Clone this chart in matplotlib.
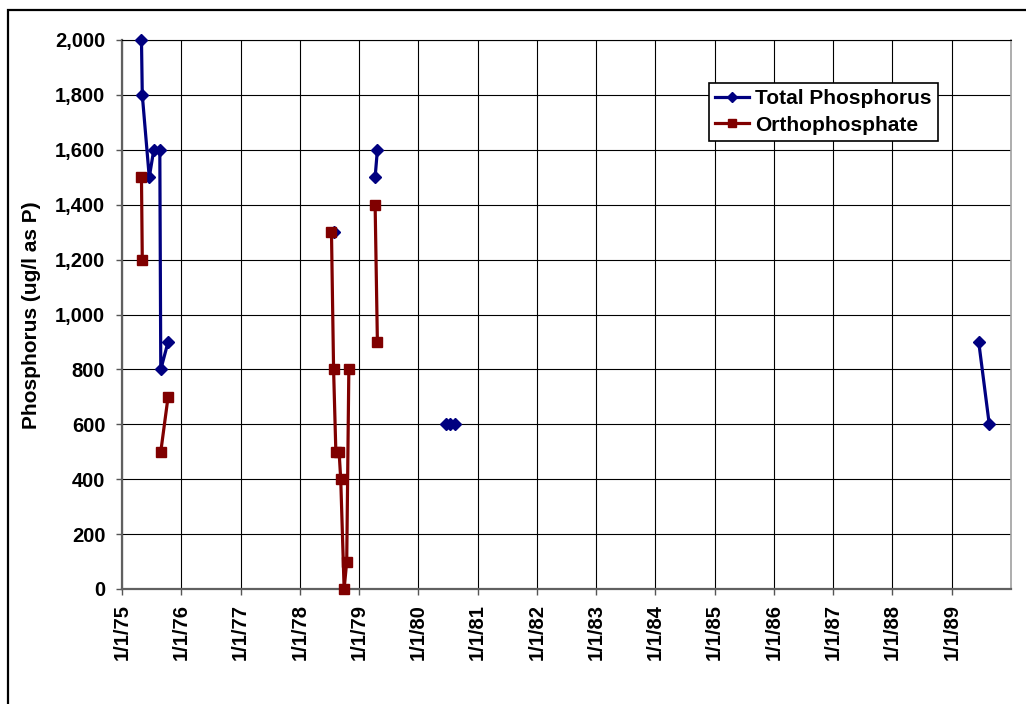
import numpy as np
import pandas as pd
import matplotlib
matplotlib.use("Agg")
import matplotlib.pyplot as plt
import matplotlib.dates as mdates
from matplotlib.patches import Rectangle
from matplotlib.ticker import FuncFormatter, MultipleLocator

plt.rcParams['font.family'] = ['Liberation Sans', 'DejaVu Sans']
plt.rcParams['font.weight'] = 'bold'

nan = np.nan

# sample dates, blank rows break the lines
sample_dates = [
    "1975-05-01", "1975-05-06", "1975-06-18", "1975-07-16", "1975-08-22",
    "1975-08-28", "1975-10-12",
    "1977-01-01",
    "1978-07-15", "1978-07-28", "1978-08-11", "1978-08-31", "1978-09-10",
    "1978-10-01", "1978-10-17", "1978-10-30",
    "1979-01-01",
    "1979-04-10", "1979-04-24",
    "1979-10-01",
    "1980-06-18", "1980-07-17", "1980-08-12",
    "1985-01-01",
    "1989-06-16", "1989-08-20",
]
total_p = [
    2000, 1800, 1500, 1600, 1600,
    800, 900,
    nan,
    nan, 1300, nan, nan, nan,
    nan, nan, nan,
    nan,
    1500, 1600,
    nan,
    600, 600, 600,
    nan,
    900, 600,
]
ortho_p = [
    1500, 1200, nan, nan, nan,
    500, 700,
    nan,
    1300, 800, 500, 500, 400,
    0, 100, 800,
    nan,
    1400, 900,
    nan,
    nan, nan, nan,
    nan,
    nan, nan,
]

dates = pd.to_datetime(sample_dates)
year_ticks = pd.date_range("1975-01-01", "1989-01-01", freq="YS")

fig = plt.figure(figsize=(10.26, 7.04), dpi=100)
ax = fig.add_axes([122 / 1026, 1 - 589 / 704, (1011 - 122) / 1026, (589 - 40) / 704])

ax.plot(dates, total_p, color="#000080", lw=2.3, marker="D", ms=6,
        label="Total Phosphorus", zorder=3, clip_on=False)
ax.plot(dates, ortho_p, color="#800000", lw=2.3, marker="s", ms=6.5,
        label="Orthophosphate", zorder=4, clip_on=False)

ax.set_xlim(pd.Timestamp("1975-01-01"), pd.Timestamp("1990-01-01"))
ax.set_ylim(0, 2000)
ax.yaxis.set_major_locator(MultipleLocator(200))
ax.yaxis.set_major_formatter(FuncFormatter(lambda v, p: f"{int(v):,}"))
ax.set_xticks(year_ticks)
ax.xaxis.set_major_formatter(FuncFormatter(
    lambda v, p: "1/1/" + mdates.num2date(v).strftime("%y")))

ax.grid(True, color="black", lw=0.8)
ax.set_axisbelow(True)
for lbl in ax.get_xticklabels():
    lbl.set_rotation(90)
ax.tick_params(axis="both", labelsize=14.5, length=4, width=1, color="#555555",
               direction="out")
ax.tick_params(axis="y", pad=8)
ax.tick_params(axis="x", pad=7)

for side in ["left", "bottom"]:
    ax.spines[side].set_color("#606060")
    ax.spines[side].set_linewidth(1.6)
ax.spines["top"].set_color("black")
ax.spines["top"].set_linewidth(0.8)
ax.spines["right"].set_color("#a0a0a0")
ax.spines["right"].set_linewidth(1.2)

fig.text(32 / 1026, 1 - 315 / 704, "Phosphorus (ug/l as P)", rotation=90,
         ha="center", va="center", fontsize=15, fontweight="bold")

leg = ax.legend(loc="upper left", bbox_to_anchor=(709 / 1026, 1 - 83 / 704),
                bbox_transform=fig.transFigure, borderaxespad=0, fontsize=15,
                frameon=True, fancybox=False, handlelength=1.6,
                handletextpad=0.3, labelspacing=0.35, borderpad=0.3,
                markerscale=0.8)
leg.get_frame().set_edgecolor("black")
leg.get_frame().set_linewidth(1.2)
leg.get_frame().set_alpha(1)

# outer chart border
fig.patches.append(Rectangle((8 / 1026, -0.1), 1.2, 1.1 - 10 / 704,
                             transform=fig.transFigure, fill=False,
                             edgecolor="black", lw=1.6))

fig.savefig("out.png", dpi=100)
